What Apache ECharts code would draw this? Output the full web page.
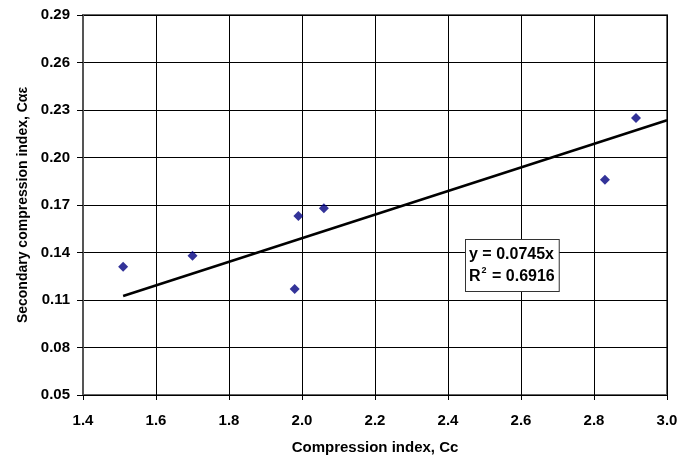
<!DOCTYPE html>
<html>
<head>
<meta charset="utf-8">
<script src="https://cdn.jsdelivr.net/npm/echarts@6/dist/echarts.min.js"></script>
<style>
  html, body { margin: 0; padding: 0; background: #fff; }
  #chart { width: 695px; height: 458px; }
</style>
</head>
<body>
<div id="chart"></div>
<script>
// measured points (Cc, C_alpha_e)
const ccValues = [1.51, 1.70, 1.98, 1.99, 2.06, 2.83, 2.915];
const caeValues = [0.131, 0.138, 0.117, 0.163, 0.168, 0.186, 0.225];
// trend line through origin, y = 0.0745x, drawn over data range
const slope = 0.0745;
const trendX = [1.51, 3.0];
const xTicks = { min: 1.4, max: 3.0, interval: 0.2 };
const yTicks = { min: 0.05, max: 0.29, interval: 0.03 };

const points = ccValues.map((x, i) => [x, caeValues[i]]);
const trend = trendX.map(x => [x, slope * x]);

const chart = echarts.init(document.getElementById('chart'));
const font = 'Liberation Sans, Arial, sans-serif';

chart.setOption({
  backgroundColor: '#fff',
  animation: false,
  grid: {
    left: 83, right: 28, top: 15, bottom: 63,
    outerBoundsMode: 'none',
    show: true, borderColor: '#666', borderWidth: 2, backgroundColor: '#fff'
  },
  xAxis: {
    type: 'value',
    min: xTicks.min, max: xTicks.max, interval: xTicks.interval,
    name: 'Compression index, Cc',
    nameLocation: 'middle',
    nameGap: 45,
    nameTextStyle: { fontFamily: font, fontWeight: 'bold', fontSize: 15, color: '#000' },
    axisLine: { lineStyle: { color: '#000', width: 1 } },
    axisTick: { show: true, length: 5, lineStyle: { color: '#000' } },
    axisLabel: {
      fontFamily: font, fontWeight: 'bold', fontSize: 15, color: '#000', margin: 18,
      formatter: v => v.toFixed(1)
    },
    splitLine: { lineStyle: { color: '#000', width: 1 } }
  },
  yAxis: {
    type: 'value',
    min: yTicks.min, max: yTicks.max, interval: yTicks.interval,
    name: 'Secondary compression index, Cαε',
    nameLocation: 'middle',
    nameGap: 52,
    nameTextStyle: { fontFamily: font, fontWeight: 'bold', fontSize: 14, color: '#000' },
    axisLine: { show: true, lineStyle: { color: '#555', width: 2 } },
    axisTick: { show: true, length: 6, lineStyle: { color: '#000' } },
    axisLabel: {
      fontFamily: font, fontWeight: 'bold', fontSize: 15, color: '#000', margin: 13,
      formatter: v => v.toFixed(2)
    },
    splitLine: { lineStyle: { color: '#000', width: 1 } }
  },
  series: [
    {
      type: 'line',
      data: trend,
      symbol: 'none',
      lineStyle: { color: '#000', width: 2.5 },
      z: 2
    },
    {
      type: 'scatter',
      data: points,
      symbol: 'diamond',
      symbolSize: 10,
      itemStyle: { color: '#000080' },
      z: 3
    }
  ],
  graphic: [
    {
      type: 'text',
      left: 465,
      top: 239,
      z: 10,
      style: {
        text: 'y = 0.0745x\nR{sup|2} = 0.6916',
        fontFamily: font,
        fontWeight: 'bold',
        fontSize: 16,
        lineHeight: 22,
        fill: '#000',
        backgroundColor: '#fff',
        borderColor: '#333',
        borderWidth: 1,
        padding: [4, 4, 3, 3],
        rich: {
          sup: { fontFamily: font, fontWeight: 'bold', fontSize: 9, verticalAlign: 'top', lineHeight: 22, padding: [0, 1, 8, 1] }
        }
      }
    }
  ]
});
</script>
</body>
</html>
